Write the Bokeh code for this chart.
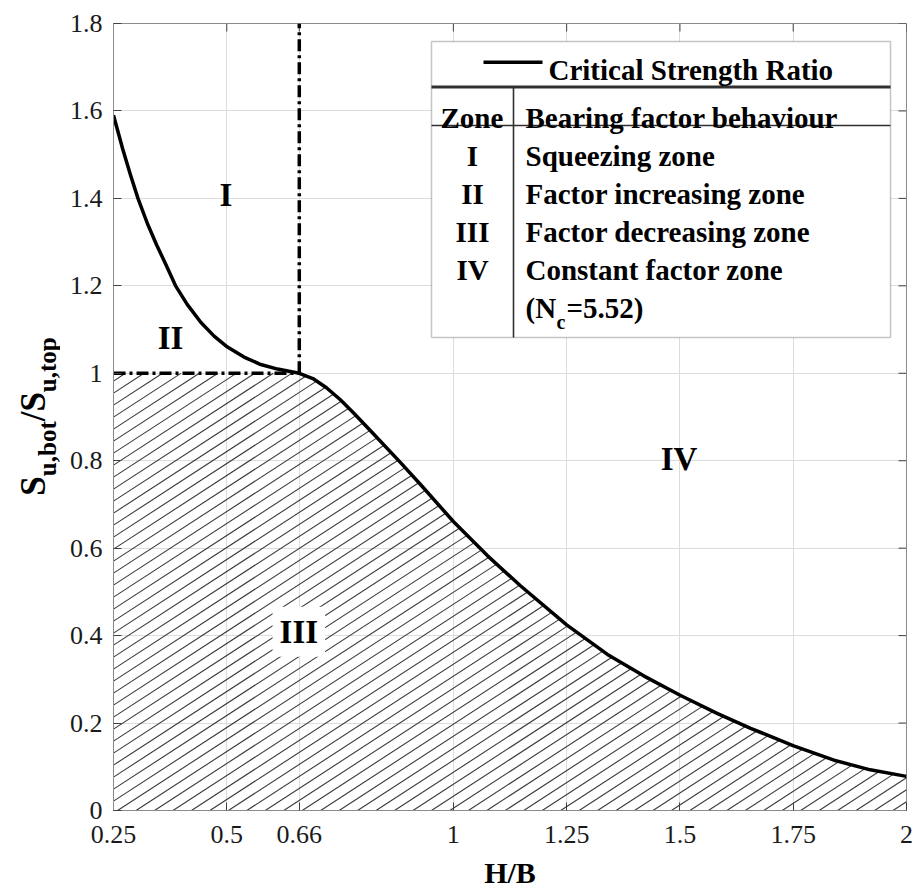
import math
import numpy as np
from bokeh.plotting import figure
from bokeh.layouts import row
from bokeh.models import (Range1d, FixedTicker, CustomJSTickFormatter, Label,
                          BoxAnnotation)
from bokeh.core.properties import value
from bokeh.embed import file_html
from bokeh.resources import INLINE

# ---------------- data ----------------
hb_curve = [0.25, 0.27, 0.287, 0.304, 0.325, 0.345, 0.365, 0.387, 0.413,
            0.443, 0.472, 0.5015, 0.538, 0.575, 0.612, 0.66, 0.69, 0.72,
            0.75, 0.781, 0.825, 0.884, 0.928, 1.0, 1.075, 1.148, 1.25, 1.34,
            1.42, 1.5015, 1.582, 1.656, 1.751, 1.84, 1.92, 2.0]
ratio_curve = [1.59, 1.514, 1.455, 1.40, 1.342, 1.294, 1.25, 1.20, 1.157,
               1.116, 1.085, 1.06, 1.037, 1.02, 1.0096, 1.0, 0.988, 0.967,
               0.94, 0.908, 0.86, 0.795, 0.745, 0.661, 0.583, 0.514, 0.4245,
               0.357, 0.308, 0.263, 0.222, 0.188, 0.148, 0.115, 0.093, 0.078]
transition_hb = 0.66
transition_ratio = 1.0

x_ticks = [0.25, 0.5, 0.66, 1, 1.25, 1.5, 1.75, 2]
y_ticks = [0, 0.2, 0.4, 0.6, 0.8, 1, 1.2, 1.4, 1.6, 1.8]

zone_names = ["I", "II", "III", "IV"]
zone_desc = ["Squeezing zone", "Factor increasing zone",
             "Factor decreasing zone", "Constant factor zone"]
nc_value = "5.52"
legend_title = "Critical Strength Ratio"
x_title = "H/B"

# ---------------- layout ----------------
X0, X1 = 0.25, 2.0
Y0, Y1 = 0.0, 1.8
PAGE_W, PAGE_H = 913, 890
WY = 60            # width of the y-title strip
L, T, FW, FH = 113, 23, 793, 787
BOTTOM = PAGE_H - T - FH
SERIF = "Liberation Serif"
TXT = "#1a1a1a"


def sx(cx):
    return cx - L


def sy(cy):
    return T + FH - cy


p = figure(frame_width=FW, frame_height=FH, title=None,
           x_range=Range1d(X0, X1), y_range=Range1d(Y0, Y1),
           output_backend="svg", toolbar_location=None,
           min_border_left=L - WY, min_border_right=PAGE_W - L - FW,
           min_border_top=T, min_border_bottom=BOTTOM,
           background_fill_color="white", border_fill_color="white")
p.outline_line_color = "#8c8c8c"
p.outline_line_width = 1

fmt = CustomJSTickFormatter(code="return String(tick);")
p.xaxis.ticker = FixedTicker(ticks=x_ticks)
p.yaxis.ticker = FixedTicker(ticks=y_ticks)
p.xaxis.formatter = fmt
p.yaxis.formatter = fmt
for ax in p.xaxis + p.yaxis:
    ax.major_label_text_font = SERIF
    ax.major_label_text_font_size = "26px"
    ax.major_label_text_color = TXT
    ax.major_tick_in = 8
    ax.major_tick_out = 0
    ax.minor_tick_in = 0
    ax.minor_tick_out = 0
    ax.major_tick_line_color = "#404040"
    ax.axis_line_color = "#8c8c8c"
p.xaxis.major_label_standoff = 15
p.yaxis.major_label_standoff = 11
p.xaxis.axis_label = x_title
p.xaxis.axis_label_text_font = SERIF
p.xaxis.axis_label_text_font_size = "30px"
p.xaxis.axis_label_text_font_style = "bold"
p.xaxis.axis_label_text_color = "black"
p.xaxis.axis_label_standoff = 10

p.xgrid.ticker = FixedTicker(ticks=x_ticks)
p.ygrid.ticker = FixedTicker(ticks=y_ticks)
p.grid.grid_line_color = "#dcdcdc"
p.grid.grid_line_width = 1

px_x = FW / (X1 - X0)
px_y = FH / (Y1 - Y0)

# tick marks on the top and right edges of the box
tick_len = 8
p.segment(x_ticks, [Y1] * len(x_ticks), x_ticks,
          [Y1 - tick_len / px_y] * len(x_ticks), line_color="#404040", line_width=1)
p.segment([X1] * len(y_ticks), y_ticks, [X1 - tick_len / px_x] * len(y_ticks),
          y_ticks, line_color="#404040", line_width=1)

# ---------------- hatch (derived from curve) ----------------
xs = np.linspace(X0, X1, 6001)
top = np.minimum(np.interp(xs, hb_curve, ratio_curve), transition_ratio)
k = 0.65 * px_x / px_y
db = 12.0 / px_y
phase = -k * 0.009
nmin = int(math.floor((-k * (X1 - X0) - phase) / db))
nmax = int(math.ceil((transition_ratio - phase) / db)) + 1
hx0, hy0, hx1, hy1 = [], [], [], []
for n in range(nmin, nmax):
    b = phase + n * db
    yl = k * (xs - X0) + b
    inside = (yl >= 0) & (yl <= top)
    idx = np.where(inside)[0]
    if len(idx) < 2:
        continue
    xa = max(X0, X0 - b / k)
    xb = xs[idx[-1]]
    if xb <= xa:
        continue
    hx0.append(xa); hy0.append(k * (xa - X0) + b)
    hx1.append(xb); hy1.append(k * (xb - X0) + b)
p.segment(hx0, hy0, hx1, hy1, line_color="#3a3a3a", line_width=1.1)

# ---------------- lines ----------------
p.line([X0, transition_hb], [transition_ratio, transition_ratio],
       line_color="black", line_width=3.5, line_dash="12 4 3 4")
p.line([transition_hb, transition_hb], [transition_ratio, Y1],
       line_color="black", line_width=3.5, line_dash="12 4 3 4")
p.line(hb_curve, ratio_curve, line_color="black", line_width=3.5,
       line_join="round")

# ---------------- zone labels ----------------
zone_pos = [(0.498, 1.407), (0.376, 1.08), (0.659, 0.409), (1.498, 0.805)]
for name, (zx, zy) in zip(zone_names, zone_pos):
    lab = Label(x=zx, y=zy, text=name, text_font=SERIF, text_font_size="33px",
                text_font_style="bold", text_color="black",
                text_align="center", text_baseline="middle")
    if name == "III":
        lab.background_fill_color = "white"
        lab.padding = 7
    p.add_layout(lab)

# ---------------- legend table ----------------
BL, BR, BT, BB = 431, 890, 41, 337


def sbox(left, right, topc, bottomc, **kw):
    p.add_layout(BoxAnnotation(left=sx(left), right=sx(right), top=sy(topc),
                               bottom=sy(bottomc), left_units="screen",
                               right_units="screen", top_units="screen",
                               bottom_units="screen", level="annotation", **kw))


sbox(BL, BR, BT, BB, fill_color="white", fill_alpha=1,
     line_color="#404040", line_width=1.5)
sbox(BL, BR, 85, 88, fill_color="#303030", fill_alpha=1, line_alpha=0)
sbox(BL, BR, 124.2, 125.8, fill_color="#303030", fill_alpha=1, line_alpha=0)
sbox(512.2, 513.8, 87, BB, fill_color="#303030", fill_alpha=1, line_alpha=0)
sbox(483, 542, 60, 63.5, fill_color="black", fill_alpha=1, line_alpha=0)


def txt(cx, cy, s, size="29px", align="left"):
    p.add_layout(Label(x=sx(cx), y=sy(cy), x_units="screen", y_units="screen",
                       text=s, text_font=SERIF, text_font_size=size,
                       text_font_style="bold", text_color="black",
                       text_align=align, text_baseline="alphabetic"))


txt(548, 69.5, legend_title)
txt(440, 117.5, "Zone")
txt(525, 117.5, "Bearing factor behaviour")
row_base = [155.7, 193.3, 231.7, 269.3]
for name, desc, yb in zip(zone_names, zone_desc, row_base):
    txt(472, yb, name, align="center")
    txt(525, yb, desc)
txt(525, 307.5, "(N")
txt(556, 321.5, "c", size="20px")
txt(566, 307.5, "=" + nc_value + ")")

# ---------------- y title strip (rotated, with subscripts) ----------------
# the strip's frame lines up with the main frame (page y from T to T+FH)
ylab = figure(width=WY, height=PAGE_H, x_range=Range1d(0, WY),
              y_range=Range1d(0, FH), title=None, min_border=0,
              x_axis_location=None, y_axis_location=None,
              toolbar_location=None, output_backend="svg",
              outline_line_color=None, background_fill_color="white",
              border_fill_color="white")
ylab.grid.visible = False
pieces = [("S", "35px", 33, 19.5), ("u,bot", "25px", 47, 54.9),
          ("/S", "35px", 33, 29.2), ("u,top", "25px", 47, 54.9)]
total = sum(w for *_, w in pieces)
pos = (T + FH / 2) + total / 2
for s, size, bx, wdt in pieces:
    ylab.text(x=[bx], y=[T + FH - pos], text=[s], angle=math.pi / 2,
              text_font=value(SERIF), text_font_size=value(size),
              text_font_style="bold", text_color="black",
              text_align="left", text_baseline="alphabetic")
    pos -= wdt

layout = row(ylab, p, spacing=0)
open("out.html", "w").write(file_html(layout, INLINE))
